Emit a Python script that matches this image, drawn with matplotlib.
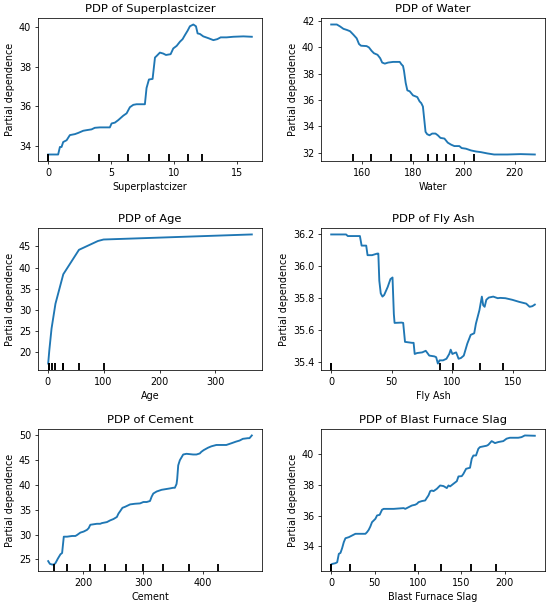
import matplotlib
matplotlib.use("Agg")
import matplotlib.pyplot as plt
import matplotlib.transforms as mtransforms

S = 0.69
plt.rcParams.update({
    "font.family": ["DejaVu Sans"],
    "font.size": 10 * S,
    "axes.titlesize": 12 * S,
    "axes.labelsize": 10 * S,
    "xtick.labelsize": 10 * S,
    "ytick.labelsize": 10 * S,
    "lines.linewidth": 1.35,
    "axes.linewidth": 0.8 * S,
    "xtick.major.size": 3.5 * S,
    "ytick.major.size": 3.5 * S,
    "xtick.major.width": 0.8 * S,
    "ytick.major.width": 0.8 * S,
    "xtick.major.pad": 3.5 * S,
    "ytick.major.pad": 3.5 * S,
    "axes.titlepad": 6 * S,
    "axes.labelpad": 4 * S,
})

# ---- Superplasticizer ----
sp_x = [0, 0.79, 0.93, 1.06, 1.19, 1.46, 1.72, 2.12, 2.38, 2.78, 3.04, 3.44, 3.70, 4.10, 4.89,
        5.03, 5.29, 5.56, 5.95, 6.22, 6.48, 6.75, 7.01, 7.67, 7.80, 7.99, 8.28, 8.47, 8.60, 8.86,
        9.13, 9.34, 9.71, 9.92, 10.19, 10.45, 10.66, 10.85, 11.06, 11.24, 11.51, 11.72, 11.85,
        12.04, 12.30, 12.70, 13.10, 13.41, 13.68, 14.15, 14.68, 15.48, 16.15]
sp_y = [33.57, 33.57, 33.95, 33.95, 34.20, 34.29, 34.55, 34.60, 34.66, 34.77, 34.80, 34.84, 34.92,
        34.94, 34.94, 35.14, 35.18, 35.31, 35.53, 35.65, 35.96, 36.08, 36.11, 36.11, 36.93, 37.36,
        37.39, 38.47, 38.55, 38.72, 38.67, 38.60, 38.64, 38.93, 39.06, 39.27, 39.40, 39.61, 39.83,
        40.05, 40.14, 40.05, 39.69, 39.66, 39.54, 39.45, 39.35, 39.40, 39.49, 39.49, 39.52, 39.54, 39.52]
sp_dec = [0, 0, 0, 4.05, 6.35, 7.99, 9.6, 11.1, 12.2]

# ---- Water ----
wa_x = [148.05, 150.26, 151.56, 152.86, 154.16, 155.45, 156.75, 158.05, 158.96, 159.74, 161.95,
        162.86, 163.90, 164.81, 166.23, 167.27, 168.05, 169.09, 170.39, 172.34, 174.94, 175.58,
        176.23, 176.62, 177.27, 177.92, 178.83, 180.13, 181.82, 182.73, 183.38, 184.03, 185.06,
        185.71, 186.62, 187.66, 188.96, 189.87, 190.91, 192.47, 193.77, 195.06, 196.36, 198.31,
        199.22, 200.91, 202.86, 204.81, 206.75, 209.35, 211.95, 214.55, 217.14, 222.34, 227.92]
wa_y = [41.74, 41.74, 41.59, 41.41, 41.33, 41.23, 40.97, 40.69, 40.26, 40.13, 40.10, 40.00, 39.74,
        39.56, 39.44, 39.18, 38.85, 38.77, 38.85, 38.90, 38.90, 38.72, 38.59, 38.21, 37.31, 36.74,
        36.67, 36.36, 36.23, 35.90, 35.77, 35.51, 33.59, 33.41, 33.33, 33.46, 33.46, 33.33, 33.13,
        33.08, 32.77, 32.62, 32.51, 32.51, 32.36, 32.31, 32.18, 32.10, 32.05, 31.95, 31.87, 31.87,
        31.87, 31.90, 31.87]
wa_dec = [156.5, 163.6, 171.4, 179.2, 186.0, 189.5, 192.9, 196.1, 204.2]

# ---- Age ----
ag_x = [1, 3, 7, 14, 28, 56, 90, 100, 120, 180, 270, 360, 365]
ag_y = [17.2, 20.3, 25.5, 31.4, 38.4, 44.2, 46.3, 46.65, 46.74, 47.01, 47.42, 47.83, 47.85]
ag_dec = [3, 3, 7, 14, 28, 28, 28, 56, 100]

# ---- Fly Ash ----
fa_x = [0, 12.3, 13.7, 23.7, 25.1, 28.9, 30.0, 33.7, 38.0, 38.9, 39.7, 40.9, 42.3, 43.7, 46.6,
        48.9, 50.6, 51.7, 52.3, 58.0, 59.4, 60.9, 66.6, 68.0, 68.9, 70.9, 75.1, 78.0, 79.4, 80.9,
        85.1, 86.6, 88.0, 89.4, 92.3, 95.1, 97.4, 98.6, 100.0, 101.7, 103.1, 105.1, 107.1, 109.4,
        112.3, 115.1, 118.0, 119.4, 122.3, 124.3, 125.4, 126.6, 128.0, 130.0, 133.7, 137.4, 139.4,
        143.7, 149.4, 155.1, 160.9, 163.7, 166.0, 168.0]
fa_y = [36.20, 36.20, 36.19, 36.19, 36.13, 36.13, 36.07, 36.07, 36.08, 36.08, 35.91, 35.83, 35.81,
        35.82, 35.87, 35.92, 35.93, 35.70, 35.645, 35.647, 35.645, 35.526, 35.52, 35.52, 35.45,
        35.456, 35.46, 35.47, 35.456, 35.44, 35.435, 35.43, 35.39, 35.41, 35.41, 35.42, 35.45,
        35.477, 35.45, 35.456, 35.46, 35.42, 35.425, 35.44, 35.515, 35.57, 35.58, 35.64, 35.725,
        35.81, 35.756, 35.746, 35.79, 35.804, 35.81, 35.80, 35.802, 35.80, 35.79, 35.777, 35.766,
        35.746, 35.75, 35.76]
fa_dec = [0, 0, 0, 0, 0, 90.0, 100.3, 123.1, 141.7]

# ---- Cement ----
ce_x = [142.0, 144.8, 148.6, 151.4, 154.1, 158.0, 162.4, 165.2, 168.0, 173.5, 181.8, 184.5, 187.3,
        190.1, 195.6, 201.1, 206.6, 209.4, 212.2, 223.2, 228.7, 231.5, 239.8, 245.3, 250.8, 256.4,
        259.1, 261.9, 265.7, 270.2, 278.5, 286.7, 295.0, 300.6, 306.1, 311.6, 314.4, 317.1, 322.7,
        330.9, 344.8, 350.3, 353.0, 355.8, 356.9, 358.6, 361.3, 366.9, 372.4, 383.4, 389.0, 394.5,
        397.2, 401.1, 408.3, 413.8, 422.1, 430.4, 435.9, 438.7, 447.0, 455.2, 460.8, 466.3, 474.6,
        477.3, 481.2]
ce_y = [24.66, 24.11, 23.97, 23.97, 24.25, 25.14, 26.03, 26.30, 29.59, 29.59, 29.73, 29.73, 29.73,
        29.93, 30.41, 30.62, 30.96, 31.30, 31.99, 32.19, 32.19, 32.33, 32.53, 32.88, 33.15, 33.56,
        34.25, 34.73, 35.41, 35.62, 36.10, 36.23, 36.30, 36.58, 36.58, 36.78, 37.67, 38.29, 38.70,
        39.04, 39.32, 39.45, 39.45, 40.21, 41.23, 43.97, 45.00, 46.16, 46.30, 46.16, 46.16, 46.37,
        46.71, 47.05, 47.53, 47.81, 48.08, 48.08, 48.08, 48.08, 48.42, 48.77, 48.97, 49.32, 49.45,
        49.45, 50.00, 50.48]
ce_dec = [152.5, 173.5, 212.2, 237.0, 271.8, 300.6, 332.6, 376.2, 424.9]

# ---- Blast Furnace Slag ----
bf_x = [0, 1.1, 5.0, 6.9, 8.8, 10.7, 12.6, 14.5, 16.4, 20.3, 24.1, 27.9, 31.7, 39.4, 41.3, 43.2,
        45.1, 47.0, 50.9, 52.8, 55.8, 58.5, 60.4, 71.9, 83.4, 85.3, 89.1, 92.9, 96.7, 98.7, 100.6,
        104.4, 108.2, 110.1, 112.0, 114.0, 115.9, 117.8, 121.6, 125.4, 129.3, 133.1, 135.0, 136.9,
        140.7, 144.6, 146.5, 150.3, 152.2, 155.3, 159.8, 161.8, 163.7, 166.7, 169.4, 171.3, 179.0,
        180.9, 184.7, 186.6, 188.5, 192.4, 198.1, 201.9, 205.7, 215.3, 219.1, 222.9, 234.4]
bf_y = [32.80, 32.84, 32.89, 32.95, 33.50, 33.56, 33.87, 34.26, 34.52, 34.59, 34.70, 34.81, 34.81,
        34.81, 34.92, 35.07, 35.29, 35.57, 35.79, 36.01, 36.05, 36.38, 36.44, 36.44, 36.49, 36.44,
        36.55, 36.66, 36.71, 36.77, 36.88, 36.95, 36.99, 37.16, 37.32, 37.60, 37.64, 37.60, 37.75,
        37.97, 37.93, 37.80, 37.97, 37.91, 38.08, 38.25, 38.56, 38.58, 38.73, 39.06, 39.13, 39.72,
        39.93, 39.93, 40.37, 40.48, 40.57, 40.63, 40.87, 40.81, 40.74, 40.81, 40.87, 41.03, 41.09,
        41.09, 41.13, 41.24, 41.22]
bf_dec = [0, 0, 0, 0, 21.4, 96.0, 126.6, 161.4, 189.3]

panels = [
    ("Superplastcizer", sp_x, sp_y, sp_dec, [0, 5, 10, 15], None),
    ("Water", wa_x, wa_y, wa_dec, [160, 180, 200, 220], None),
    ("Age", ag_x, ag_y, ag_dec, [0, 100, 200, 300], None),
    ("Fly Ash", fa_x, fa_y, fa_dec, [0, 50, 100, 150], [35.4, 35.6, 35.8, 36.0, 36.2]),
    ("Cement", ce_x, ce_y, ce_dec, [200, 300, 400], None),
    ("Blast Furnace Slag", bf_x, bf_y, bf_dec, [0, 50, 100, 150, 200], None),
]

W, H = 550, 605
cols = [(38, 262), (321, 545)]
rows = [(18, 161), (228, 370), (429, 571)]

fig = plt.figure(figsize=(W / 100, H / 100), dpi=100)
for i, (name, xs, ys, dec, xt, yt) in enumerate(panels):
    r, c = divmod(i, 2)
    l, rr = cols[c]
    t, b = rows[r]
    ax = fig.add_axes([l / W, 1 - b / H, (rr - l) / W, (b - t) / H])
    n = min(len(xs), len(ys))
    ax.plot(xs[:n], ys[:n], color="#1f77b4")
    ylim = ax.get_ylim()
    trans = mtransforms.blended_transform_factory(ax.transData, ax.transAxes)
    ax.vlines(dec, 0, 0.05, transform=trans, color="k", linewidth=1.35)
    ax.set_ylim(ylim)
    ax.set_xticks(xt)
    if yt is not None:
        ax.set_yticks(yt)
    ax.set_title("PDP of " + name)
    ax.set_xlabel(name)
    ax.set_ylabel("Partial dependence")

fig.savefig("out.png", dpi=100)
